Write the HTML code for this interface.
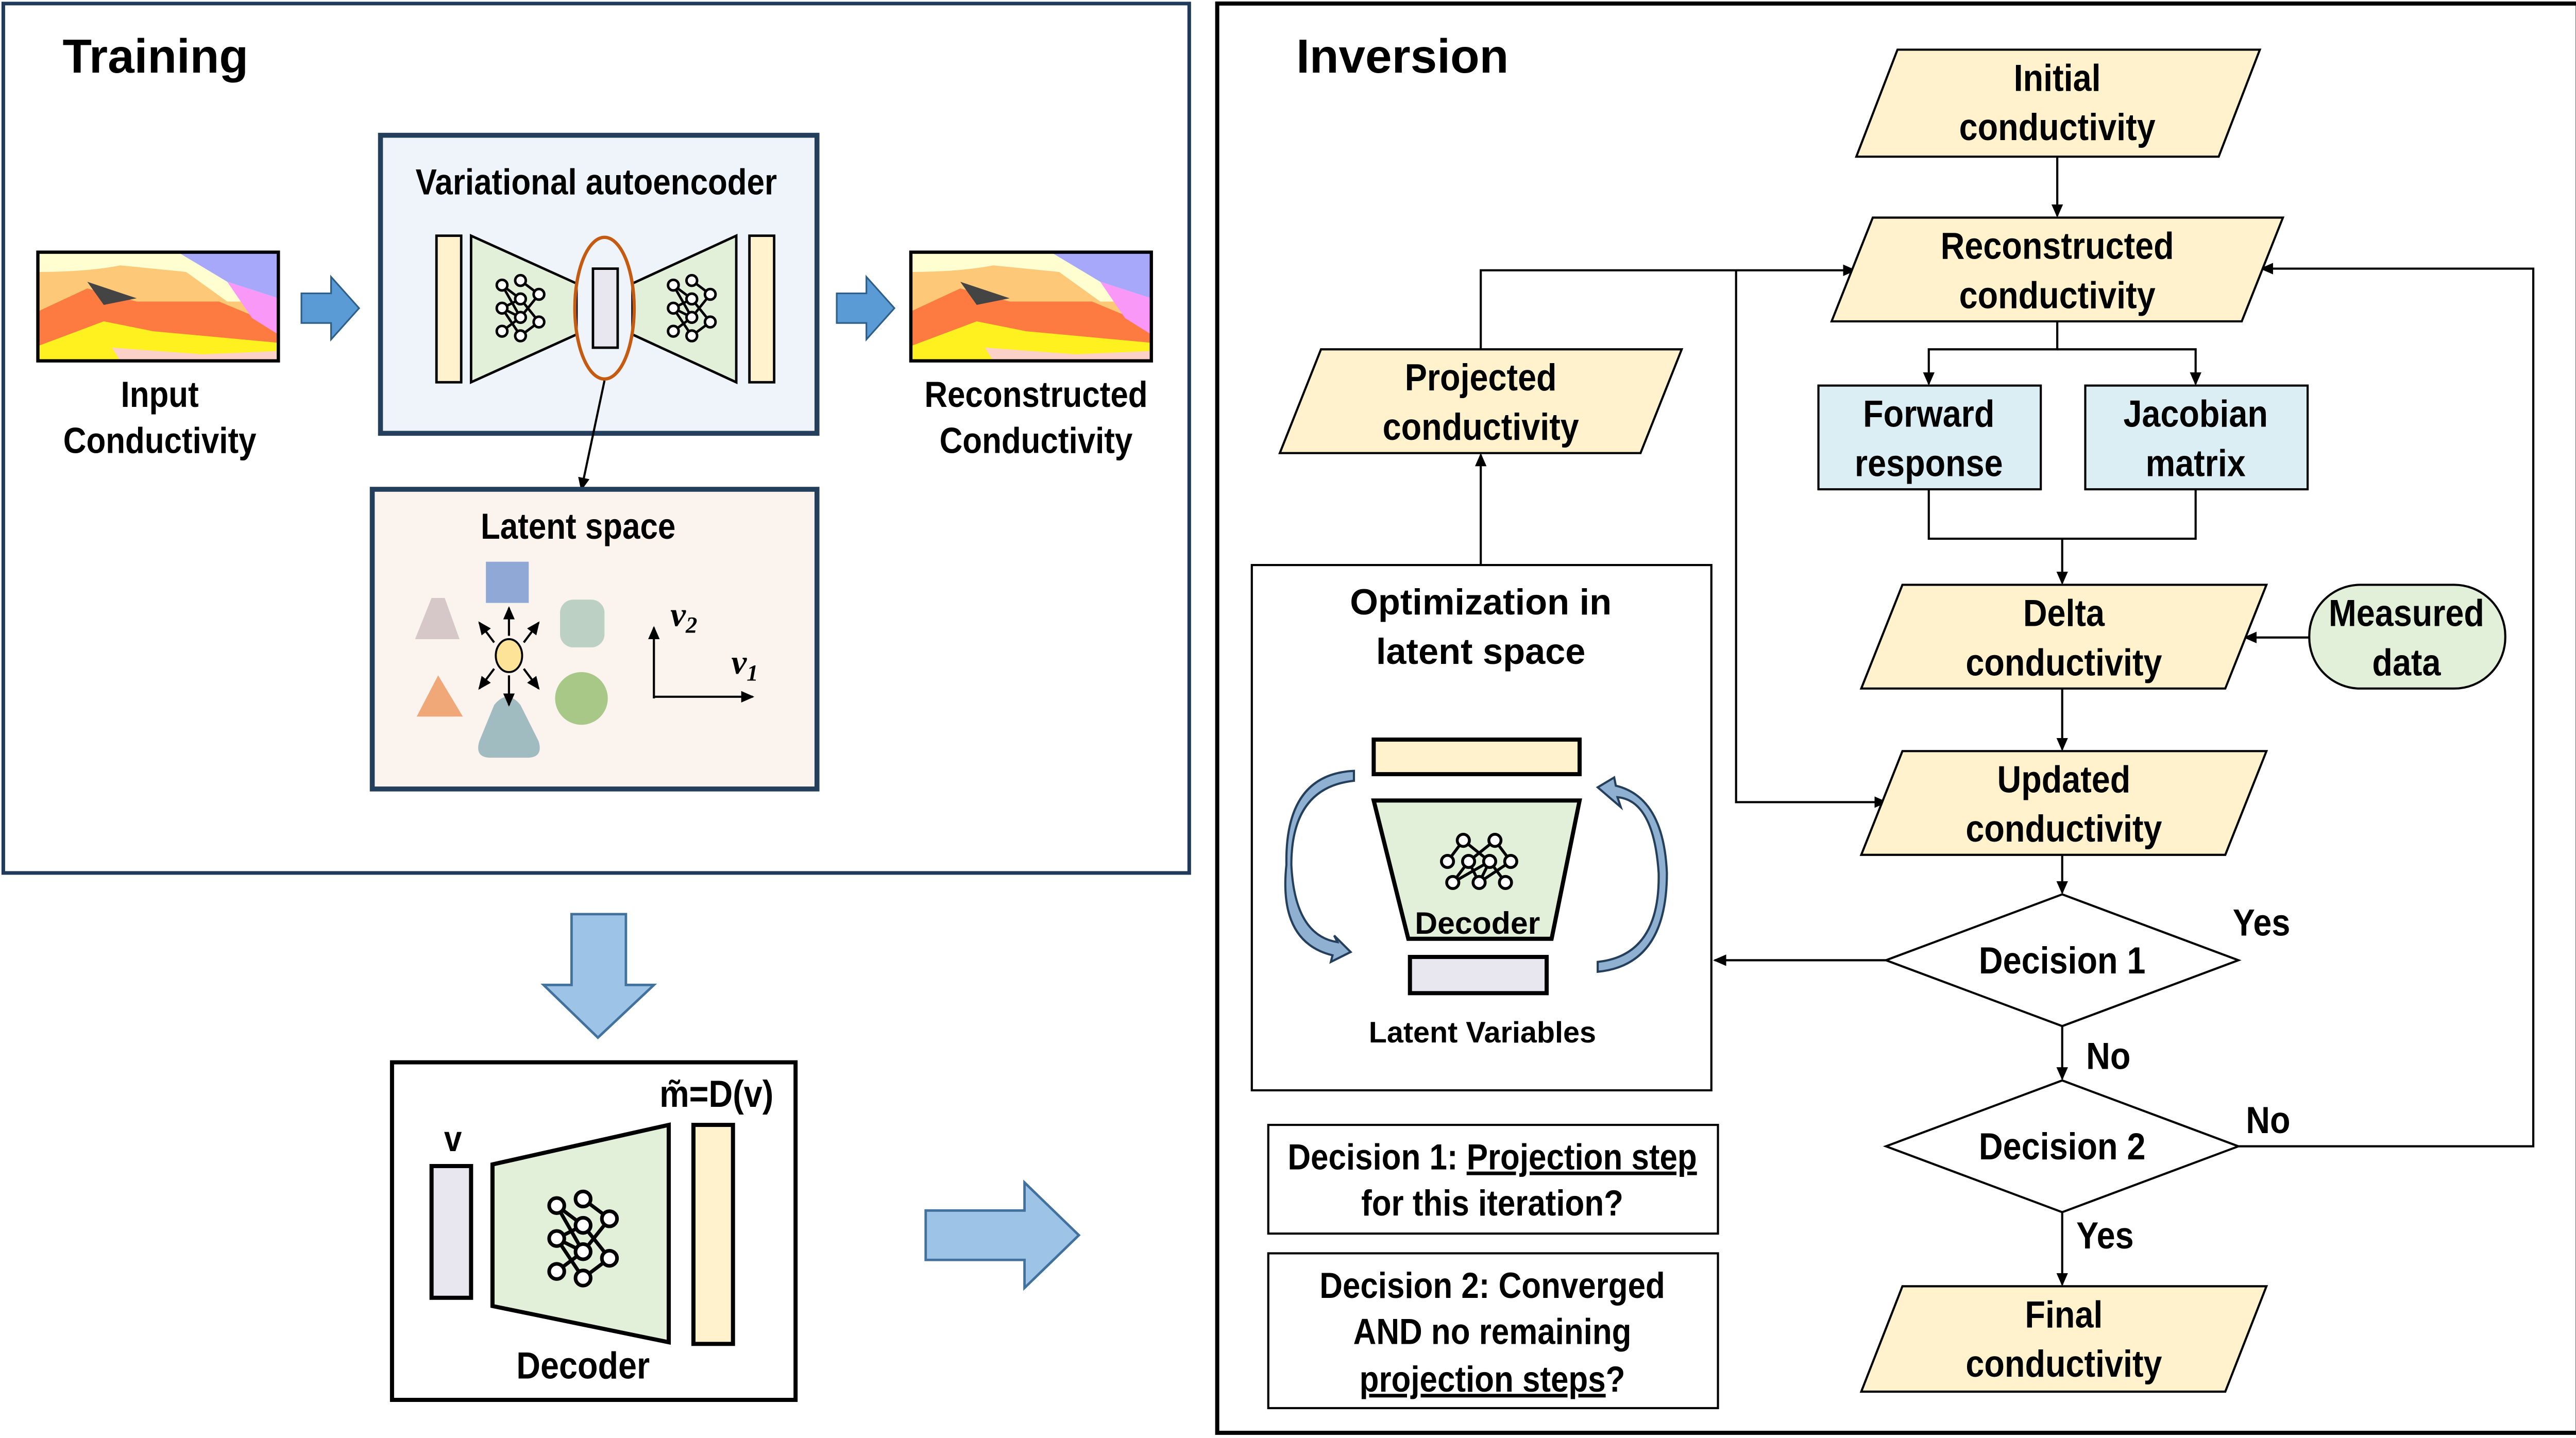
<!DOCTYPE html>
<html><head><meta charset="utf-8"><style>
html,body{margin:0;padding:0;background:#fff;}
svg{display:block;}
text{font-family:"Liberation Sans Narrow","Liberation Sans",sans-serif;font-weight:bold;fill:#000;}
text.n{transform-box:fill-box;transform-origin:center;transform:scaleX(0.88);}
</style></head><body>
<svg width="5013" height="2792" viewBox="0 0 1568 873" xmlns="http://www.w3.org/2000/svg">
<defs>
<marker id="ar" markerWidth="8" markerHeight="8" refX="7" refY="4" orient="auto" markerUnits="userSpaceOnUse"><path d="M0,0.5 L8,4 L0,7.5 Z" fill="#000"/></marker>
<g id="nn" stroke="#000" stroke-width="1.1" fill="none">
<line x1="-8" y1="-10" x2="0" y2="-4"/><line x1="-8" y1="-10" x2="0" y2="4"/><line x1="-8" y1="0" x2="0" y2="-4"/><line x1="-8" y1="0" x2="0" y2="4"/><line x1="-8" y1="0" x2="0" y2="12"/><line x1="-8" y1="10" x2="0" y2="4"/><line x1="0" y1="-12" x2="8" y2="-6"/><line x1="0" y1="-4" x2="8" y2="6"/><line x1="0" y1="4" x2="8" y2="-6"/><line x1="0" y1="12" x2="8" y2="6"/>
<g fill="#fff"><circle cx="-8" cy="-10" r="2.3"/><circle cx="-8" cy="0" r="2.3"/><circle cx="-8" cy="10" r="2.3"/><circle cx="0" cy="-12" r="2.3"/><circle cx="0" cy="-4" r="2.3"/><circle cx="0" cy="4" r="2.3"/><circle cx="0" cy="12" r="2.3"/><circle cx="8" cy="-6" r="2.3"/><circle cx="8" cy="6" r="2.3"/></g>
</g>
<g id="geo">
<rect x="0" y="0" width="146" height="66" fill="#ffe833"/>
<path d="M0,0 H146 V66 H0Z" fill="#fefed0"/>
<path d="M0,12 Q30,12 50,8 L90,12 L115,30 L146,30 V66 H0Z" fill="#fdc878"/>
<path d="M0,36 L30,22 L60,30 L110,30 L146,45 V66 H0Z" fill="#fd7a40"/>
<path d="M0,57 L40,42 L70,48 L146,55 V66 H0Z" fill="#fff01f"/>
<path d="M45,58 L100,62 L146,60 V66 H50Z" fill="#fdd0c8"/>
<path d="M30,18 L60,28 L40,32 Z" fill="#444"/>
<path d="M85,0 H146 V28 L115,18Z" fill="#a8a8fa"/>
<path d="M115,18 L146,28 V50 L130,40Z" fill="#fa98f8"/>
<rect x="0" y="0" width="146" height="66" fill="none" stroke="#000" stroke-width="2"/>
</g>
</defs>

<!-- Training -->
<rect x="2" y="2" width="720" height="528" fill="#fff" stroke="#1f3a5a" stroke-width="2.2"/>
<text x="38" y="44" font-size="29" style="font-family:'Liberation Sans',sans-serif">Training</text>
<use href="#geo" x="23" y="153"/>
<text class="n" x="97" y="247" font-size="22" text-anchor="middle">Input</text>
<text class="n" x="97" y="275" font-size="22" text-anchor="middle">Conductivity</text>
<path d="M183,178 H201 V168 L218,187 L201,206 V196 H183Z" fill="#5b9bd5" stroke="#2e5f8a" stroke-width="1"/>
<rect x="231" y="82" width="265" height="181" fill="#eef4f9" stroke="#243f5c" stroke-width="3"/>
<text class="n" x="362" y="118" font-size="22" text-anchor="middle">Variational autoencoder</text>
<rect x="265" y="143" width="15" height="89" fill="#fff2cc" stroke="#000" stroke-width="1.5"/>
<path d="M286,143 L350,172 L350,203 L286,232Z" fill="#e2efd9" stroke="#000" stroke-width="1.5"/>
<use href="#nn" transform="translate(316,187) scale(1.4)"/>
<rect x="360" y="163" width="15" height="48" fill="#e8e6ee" stroke="#000" stroke-width="1.5"/>
<path d="M447,143 L384,172 L384,203 L447,232Z" fill="#e2efd9" stroke="#000" stroke-width="1.5"/>
<use href="#nn" transform="translate(420,187) scale(1.4)"/>
<rect x="455" y="143" width="15" height="89" fill="#fff2cc" stroke="#000" stroke-width="1.5"/>
<ellipse cx="367" cy="187" rx="18" ry="43" fill="none" stroke="#c55a11" stroke-width="2"/>
<path d="M508,178 H526 V168 L543,187 L526,206 V196 H508Z" fill="#5b9bd5" stroke="#2e5f8a" stroke-width="1"/>
<use href="#geo" x="553" y="153"/>
<text class="n" x="629" y="247" font-size="22" text-anchor="middle">Reconstructed</text>
<text class="n" x="629" y="275" font-size="22" text-anchor="middle">Conductivity</text>
<line x1="367" y1="231" x2="353" y2="297" stroke="#000" stroke-width="1.3" marker-end="url(#ar)"/>
<rect x="226" y="297" width="270" height="182" fill="#fbf3ee" stroke="#243f5c" stroke-width="3"/>
<text class="n" x="351" y="327" font-size="22" text-anchor="middle">Latent space</text>
<rect x="295" y="341" width="26" height="25" fill="#8fa8d6"/>
<path d="M252,388 L262,363 L270,363 L279,388Z" fill="#d6c8c8"/>
<rect x="340" y="364" width="27" height="29" rx="8" fill="#bcd0c4"/>
<path d="M253,435 L266,410 L281,435Z" fill="#f0a878"/>
<ellipse cx="353" cy="424" rx="16" ry="16" fill="#a8c888"/>
<path d="M300,428 Q308,418 316,428 L327,450 Q330,460 320,460 H298 Q288,460 291,450Z" fill="#a0bcc0"/>
<ellipse cx="309" cy="398" rx="8" ry="10" fill="#fde398" stroke="#000" stroke-width="1.2"/>
<g stroke="#000" stroke-width="1.3" marker-end="url(#ar)">
<line x1="309" y1="386" x2="309" y2="369"/><line x1="300" y1="390" x2="291" y2="378"/><line x1="318" y1="390" x2="327" y2="378"/>
<line x1="300" y1="406" x2="291" y2="418"/><line x1="318" y1="406" x2="327" y2="418"/><line x1="309" y1="410" x2="309" y2="428"/>
<line x1="397" y1="424" x2="397" y2="381"/><line x1="397" y1="423" x2="457" y2="423"/>
</g>
<text x="407" y="380" font-size="21" font-style="italic" style="font-family:'Liberation Serif',serif">v<tspan font-size="14" dy="4">2</tspan></text>
<text x="444" y="409" font-size="21" font-style="italic" style="font-family:'Liberation Serif',serif">v<tspan font-size="14" dy="4">1</tspan></text>

<!-- big arrows -->
<path d="M347,555 H380 V598 H397 L363,630 L330,598 H347Z" fill="#9dc3e6" stroke="#41719c" stroke-width="1.5"/>
<path d="M562,735 H622 V718 L655,750 L622,782 V765 H562Z" fill="#9dc3e6" stroke="#41719c" stroke-width="1.5"/>

<!-- decoder box -->
<rect x="238" y="645" width="245" height="205" fill="#fff" stroke="#000" stroke-width="2.5"/>
<text class="n" x="275" y="699" font-size="22" text-anchor="middle">v</text>
<text class="n" x="435" y="672" font-size="23" text-anchor="middle">m̃=D(v)</text>
<rect x="262" y="708" width="24" height="80" fill="#e8e6ee" stroke="#000" stroke-width="2.5"/>
<path d="M299,707 L406,683 L406,815 L299,793Z" fill="#e2efd9" stroke="#000" stroke-width="2.5"/>
<use href="#nn" transform="translate(354,752) scale(2)"/>
<rect x="421" y="683" width="24" height="133" fill="#fff2cc" stroke="#000" stroke-width="2.5"/>
<text class="n" x="354" y="837" font-size="23" text-anchor="middle">Decoder</text>

<!-- Inversion -->
<rect x="739" y="2" width="826" height="868" fill="#fff" stroke="#000" stroke-width="2.5"/>
<text x="787" y="44" font-size="29" style="font-family:'Liberation Sans',sans-serif">Inversion</text>

<g stroke="#000" stroke-width="1.3" fill="none">
<line x1="1249" y1="95" x2="1249" y2="131" marker-end="url(#ar)"/>
<polyline points="1249,195 1249,212 1171,212 1171,233" marker-end="url(#ar)"/>
<polyline points="1249,212 1333,212 1333,233" marker-end="url(#ar)"/>
<polyline points="1171,297 1171,327 1333,327 1333,297"/>
<line x1="1252" y1="327" x2="1252" y2="354" marker-end="url(#ar)"/>
<line x1="1402" y1="387" x2="1363" y2="387" marker-end="url(#ar)"/>
<line x1="1252" y1="418" x2="1252" y2="455" marker-end="url(#ar)"/>
<line x1="1252" y1="519" x2="1252" y2="542" marker-end="url(#ar)"/>
<line x1="1145" y1="583" x2="1041" y2="583" marker-end="url(#ar)"/>
<line x1="1252" y1="623" x2="1252" y2="655" marker-end="url(#ar)"/>
<polyline points="1359,696 1538,696 1538,163 1373,163" marker-end="url(#ar)"/>
<line x1="1252" y1="736" x2="1252" y2="780" marker-end="url(#ar)"/>
<line x1="899" y1="343" x2="899" y2="276" marker-end="url(#ar)"/>
<polyline points="899,212 899,164 1126,164" marker-end="url(#ar)"/>
<polyline points="1054,164 1054,487 1145,487" marker-end="url(#ar)"/>
</g>

<g fill="#fff2cc" stroke="#000" stroke-width="1.3">
<path d="M1152,30 H1372 L1347,95 H1127Z"/>
<path d="M1137,132 H1386 L1361,195 H1112Z"/>
<path d="M1155,355 H1376 L1351,418 H1130Z"/>
<path d="M1155,456 H1376 L1351,519 H1130Z"/>
<path d="M1155,781 H1376 L1351,845 H1130Z"/>
<path d="M802,212 H1021 L996,275 H777Z"/>
</g>
<rect x="1104" y="234" width="135" height="63" fill="#dbeef4" stroke="#000" stroke-width="1.3"/>
<rect x="1266" y="234" width="135" height="63" fill="#dbeef4" stroke="#000" stroke-width="1.3"/>
<rect x="1402" y="355" width="119" height="63" rx="31" fill="#e2efd9" stroke="#000" stroke-width="1.3"/>
<path d="M1252,543 L1359,583 L1252,623 L1145,583Z" fill="#fff" stroke="#000" stroke-width="1.3"/>
<path d="M1252,656 L1359,696 L1252,736 L1145,696Z" fill="#fff" stroke="#000" stroke-width="1.3"/>

<g font-size="23" text-anchor="middle">
<text class="n" x="1249" y="55">Initial</text><text class="n" x="1249" y="85">conductivity</text>
<text class="n" x="1249" y="157">Reconstructed</text><text class="n" x="1249" y="187">conductivity</text>
<text class="n" x="1171" y="259">Forward</text><text class="n" x="1171" y="289">response</text>
<text class="n" x="1333" y="259">Jacobian</text><text class="n" x="1333" y="289">matrix</text>
<text class="n" x="1253" y="380">Delta</text><text class="n" x="1253" y="410">conductivity</text>
<text class="n" x="1461" y="380">Measured</text><text class="n" x="1461" y="410">data</text>
<text class="n" x="1253" y="481">Updated</text><text class="n" x="1253" y="511">conductivity</text>
<text class="n" x="1252" y="591">Decision 1</text>
<text class="n" x="1252" y="704">Decision 2</text>
<text class="n" x="1253" y="806">Final</text><text class="n" x="1253" y="836">conductivity</text>
<text class="n" x="899" y="237">Projected</text><text class="n" x="899" y="267">conductivity</text>
<text class="n" x="1373" y="568">Yes</text>
<text class="n" x="1280" y="649">No</text>
<text class="n" x="1377" y="688">No</text>
<text class="n" x="1278" y="758">Yes</text>
</g>

<rect x="760" y="343" width="279" height="319" fill="#fff" stroke="#000" stroke-width="1.3"/>
<text x="899" y="373" font-size="22" text-anchor="middle" style="font-family:'Liberation Sans',sans-serif">Optimization in</text>
<text x="899" y="403" font-size="22" text-anchor="middle" style="font-family:'Liberation Sans',sans-serif">latent space</text>
<rect x="834" y="449" width="125" height="21" fill="#fff2cc" stroke="#000" stroke-width="2.5"/>
<path d="M834,486 H959 L942,570 H855Z" fill="#e2efd9" stroke="#000" stroke-width="2.5"/>
<use href="#nn" transform="translate(898,523) scale(1.6) rotate(-90)"/>
<text x="897" y="567" font-size="19" text-anchor="middle" style="font-family:'Liberation Sans',sans-serif">Decoder</text>
<rect x="856" y="581" width="83" height="22" fill="#e8e6ee" stroke="#000" stroke-width="2.5"/>
<text x="900" y="633" font-size="18" text-anchor="middle" style="font-family:'Liberation Sans',sans-serif">Latent Variables</text>
<path d="M822,474 Q784,478 784,525 Q786,568 812,572 L810,568 L820,578 L808,584 L809,580 Q776,572 781,525 Q780,470 822,468Z" fill="#8fb0d0" stroke="#243f5c" stroke-width="1.3"/>
<path d="M970,584 Q1008,580 1007,530 Q1004,486 982,484 L984,490 L970,478 L980,472 L981,477 Q1010,484 1012,530 Q1012,586 970,590Z" fill="#8fb0d0" stroke="#243f5c" stroke-width="1.3"/>

<rect x="770" y="683" width="273" height="66" fill="#fff" stroke="#000" stroke-width="1.3"/>
<text class="n" x="906" y="710" font-size="22" text-anchor="middle">Decision 1: <tspan text-decoration="underline">Projection step</tspan></text>
<text class="n" x="906" y="738" font-size="22" text-anchor="middle">for this iteration?</text>
<rect x="770" y="761" width="273" height="94" fill="#fff" stroke="#000" stroke-width="1.3"/>
<text class="n" x="906" y="788" font-size="22" text-anchor="middle">Decision 2: Converged</text>
<text class="n" x="906" y="816" font-size="22" text-anchor="middle">AND no remaining</text>
<text class="n" x="906" y="845" font-size="22" text-anchor="middle"><tspan text-decoration="underline">projection steps</tspan>?</text>
</svg>
</body></html>
